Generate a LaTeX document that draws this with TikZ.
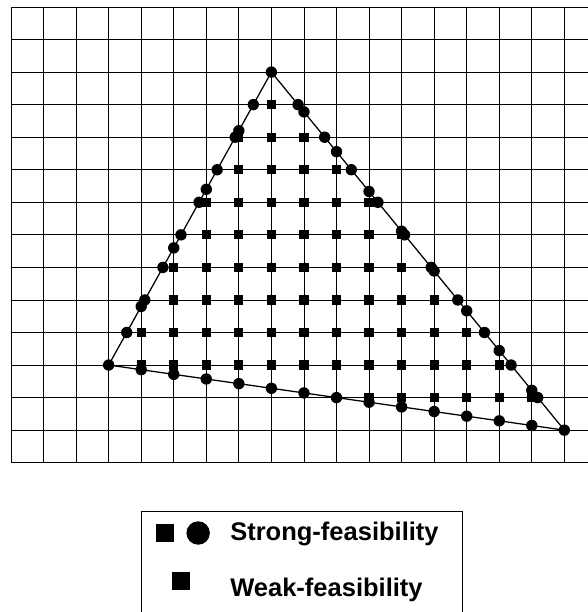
\documentclass[tikz,border=0pt]{standalone}
\usepackage{fontspec}
\setmainfont{Liberation Sans}
\usetikzlibrary{positioning}

\begin{document}
\begin{tikzpicture}[x=1cm, y=1cm,
    gridline/.style={line width=0.7pt},
    edge/.style={line width=1.1pt},
    strongpt/.style={circle, fill, inner sep=0pt, minimum size=0.35cm},
    weakpt/.style={rectangle, fill, inner sep=0pt, minimum size=0.28cm},
    legtext/.style={font=\fontsize{22.3}{26}\selectfont\bfseries,
                    anchor=base west, inner sep=0pt}]
  \useasboundingbox (-0.338,-4.587) rectangle (17.696,14.215);

  % grid
  \foreach \x in {0,...,17}
    \draw[gridline] (\x,0) -- (\x,14);
  \foreach \y in {0,...,14}
    \draw[gridline] (0,\y) -- (17.8,\y);

  % triangle
  \coordinate (pL) at (3,3);
  \coordinate (pT) at (8,12);
  \coordinate (pR) at (17,1);
  \draw[edge] (pL) -- (pT) -- (pR) -- cycle;

  % weak points (grid points inside)
  \foreach \y/\a/\b in {2/11/16, 3/4/15, 4/4/14, 5/5/13, 6/5/12,
                        7/6/12, 8/6/11, 9/7/10, 10/7/9, 11/8/8}
    \foreach \x in {\a,...,\b}
      \node[weakpt] at (\x,\y) {};

  % strong points (edges crossing grid lines)
  \foreach \y in {3,...,12}
    \node[strongpt] at ({3+5*(\y-3)/9},\y) {};
  \foreach \x in {4,...,7}
    \node[strongpt] at (\x,{3+9*(\x-3)/5}) {};
  \foreach \y in {1,...,11}
    \node[strongpt] at ({8+9*(12-\y)/11},\y) {};
  \foreach \x in {9,...,16}
    \node[strongpt] at (\x,{12-11*(\x-8)/9}) {};
  \foreach \x in {4,...,16}
    \node[strongpt] at (\x,{3-(\x-3)/7}) {};

  % legend
  \draw[gridline] (13.86,-4.8) -- (13.86,-1.484) -- (4,-1.484) -- (4,-4.8);
  \node[weakpt, minimum size=0.55cm] (sqstrong) at (4.73,-2.16) {};
  \node[strongpt, minimum size=0.72cm] (cistrong) at (5.75,-2.16) {};
  \node[legtext] (labstrong) at (6.73,-2.375) {Strong-feasibility};
  \node[weakpt, minimum size=0.57cm] (sqweak) at (5.22,-3.64) {};
  \node[legtext] (labweak) at (6.73,-4.11) {Weak-feasibility};
\end{tikzpicture}
\end{document}
